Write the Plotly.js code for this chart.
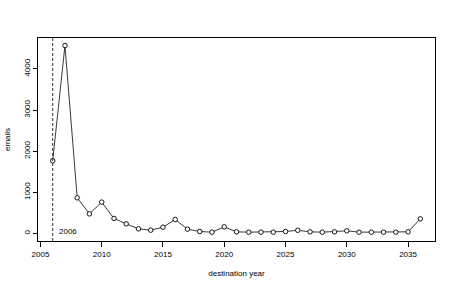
<!DOCTYPE html>
<html>
<head>
<meta charset="utf-8">
<script src="https://cdn.plot.ly/plotly-3.0.1.min.js"></script>
<style>html,body{margin:0;padding:0;background:#fff}#chart{width:455px;height:288px}</style>
</head>
<body>
<div id="chart"></div>
<script>
const years = [2006,2007,2008,2009,2010,2011,2012,2013,2014,2015,2016,2017,2018,2019,2020,2021,2022,2023,2024,2025,2026,2027,2028,2029,2030,2031,2032,2033,2034,2035,2036];
const emails = [1767,4570,867,477,762,365,234,112,80,153,340,105,48,32,161,40,32,32,32,48,78,40,32,40,64,32,32,32,32,40,356];
const xTicks = [2005,2010,2015,2020,2025,2030,2035];
const yTicks = [0,1000,2000,3000,4000];
const markerYear = 2006;
const markerLabel = "2006";

const font = {family: "Liberation Sans, Arial, sans-serif", size: 8, color: "#000"};

const trace = {
  x: years, y: emails, type: "scatter", mode: "lines+markers",
  line: {color: "#222", width: 0.9},
  marker: {symbol: "circle", size: 4.5, color: "#fff", line: {color: "#000", width: 0.9}},
  hoverinfo: "skip"
};

const layout = {
  width: 455, height: 288,
  margin: {l: 38, r: 20, t: 38, b: 47},
  paper_bgcolor: "#fff", plot_bgcolor: "#fff",
  showlegend: false,
  font: font,
  xaxis: {
    range: [2004.8, 2037.2], tickvals: xTicks, ticktext: xTicks.map(String),
    showgrid: false, zeroline: false, showline: true, mirror: true,
    linecolor: "#000", linewidth: 1, ticks: "outside", ticklen: 5, tickcolor: "#000", tickwidth: 1,
    tickfont: font,
    title: {text: "destination year", font: font, standoff: 12}
  },
  yaxis: {
    range: [-183, 4753], tickvals: yTicks, ticktext: yTicks.map(String),
    showgrid: false, zeroline: false, showline: true, mirror: true,
    linecolor: "#000", linewidth: 1, ticks: "outside", ticklen: 4, tickcolor: "#000", tickwidth: 1,
    tickangle: -90, tickfont: font,
    title: {text: "emails", font: font, standoff: 10}
  },
  shapes: [{
    type: "line", xref: "x", yref: "paper", x0: markerYear, x1: markerYear, y0: 0, y1: 1,
    line: {color: "#333", width: 1, dash: "3px,2px"}
  }],
  annotations: [{
    x: markerYear, y: 0, xref: "x", yref: "y", text: markerLabel, showarrow: false,
    xanchor: "left", yanchor: "middle", xshift: 4, yshift: 2, font: font
  }]
};

Plotly.newPlot("chart", [trace], layout, {displayModeBar: false, staticPlot: true});
</script>
</body>
</html>
